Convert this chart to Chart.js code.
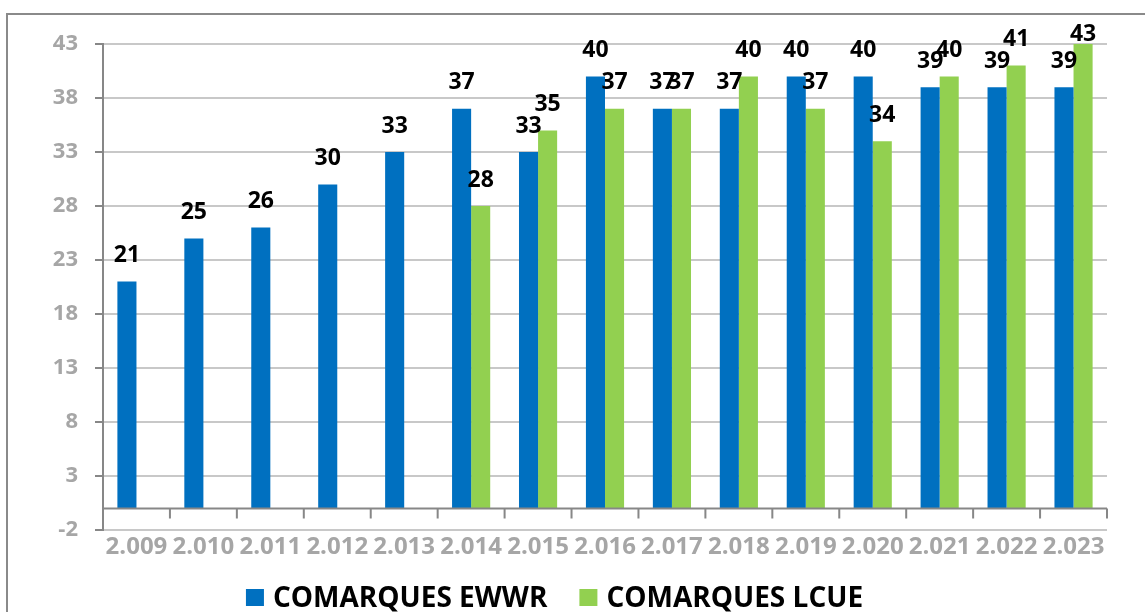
<!DOCTYPE html>
<html>
<head>
<meta charset="utf-8">
<script src="https://cdn.jsdelivr.net/npm/chart.js@4"></script>
<style>
  html, body { margin: 0; padding: 0; background: #fff; overflow: hidden; width: 1145px; height: 612px; }
  .frame { position: absolute; left: 6px; top: 13px; width: 1160px; height: 640px; border: 2px solid #8a8a8a; box-sizing: border-box; }
  .chart-container { position: absolute; left: 0; top: 0; width: 1145px; height: 612px; }
</style>
</head>
<body>
<div class="frame"></div>
<div class="chart-container"><canvas id="chart"></canvas></div>
<script>
// years as written on the axis
const years = ['2.009', '2.010', '2.011', '2.012', '2.013', '2.014', '2.015', '2.016',
               '2.017', '2.018', '2.019', '2.020', '2.021', '2.022', '2.023'];
const ewwrValues = [21, 25, 26, 30, 33, 37, 33, 40, 37, 37, 40, 40, 39, 39, 39];
const lcueValues = [null, null, null, null, null, 28, 35, 37, 37, 40, 37, 34, 40, 41, 43];
const seriesNames = ['COMARQUES EWWR', 'COMARQUES LCUE'];
const yMin = -2, yMax = 43, yStep = 5;

const axisGray = '#878787';
const labelGray = '#a6a6a6';
const fontFamily = '"Open Sans", "Liberation Sans", sans-serif';

// value labels above each bar (kept inside the frame like Excel does)
const barLabels = {
    id: 'barLabels',
    afterDatasetsDraw(chart) {
        const ctx = chart.ctx;
        const top = chart.chartArea.top;
        ctx.save();
        ctx.font = 'bold 23px ' + fontFamily;
        ctx.fillStyle = '#000';
        ctx.textAlign = 'center';
        ctx.textBaseline = 'middle';
        chart.data.datasets.forEach((ds, di) => {
            chart.getDatasetMeta(di).data.forEach((bar, i) => {
                const v = ds.data[i];
                if (v === null || v === undefined) return;
                ctx.fillText(String(v), bar.x, Math.max(bar.y - 26, top - 10));
            });
        });
        ctx.restore();
    }
};

// horizontal axis crossing at zero, with tick marks between categories
const zeroAxis = {
    id: 'zeroAxis',
    afterDatasetsDraw(chart) {
        const { ctx, chartArea } = chart;
        const x = chart.scales.x, y = chart.scales.y;
        const y0 = y.getPixelForValue(0);
        ctx.save();
        ctx.strokeStyle = axisGray;
        ctx.lineWidth = 2;
        ctx.beginPath();
        ctx.moveTo(chartArea.left, y0);
        ctx.lineTo(chartArea.right, y0);
        const n = chart.data.labels.length;
        for (let i = 1; i <= n; i++) {
            const bx = i < n ? (x.getPixelForValue(i - 1) + x.getPixelForValue(i)) / 2 : chartArea.right;
            ctx.moveTo(bx, y0);
            ctx.lineTo(bx, y0 + 10);
        }
        ctx.stroke();
        ctx.restore();
    }
};

// legend under the axis labels
const bottomLegend = {
    id: 'bottomLegend',
    afterDraw(chart) {
        const ctx = chart.ctx;
        ctx.save();
        ctx.font = 'bold 28px ' + fontFamily;
        ctx.textBaseline = 'middle';
        const box = 18, gap = 9, spacing = 32;
        const items = chart.data.datasets.map(ds => ({
            text: ds.label, color: ds.backgroundColor, w: ctx.measureText(ds.label).width
        }));
        const total = items.reduce((s, it) => s + box + gap + it.w, 0) + spacing * (items.length - 1);
        let x = chart.width / 2 - 18 - total / 2;
        const cy = chart.chartArea.bottom + 68;
        items.forEach(it => {
            ctx.fillStyle = it.color;
            ctx.fillRect(x, cy - 9, box, 17);
            ctx.fillStyle = '#000';
            ctx.fillText(it.text, x + box + gap, cy + 1);
            x += box + gap + it.w + spacing;
        });
        ctx.restore();
    }
};

const ctx = document.getElementById('chart').getContext('2d');
new Chart(ctx, {
    type: 'bar',
    data: {
        labels: years,
        datasets: [
            { label: seriesNames[0], data: ewwrValues, backgroundColor: '#0070c0' },
            { label: seriesNames[1], data: lcueValues, backgroundColor: '#92d050' }
        ]
    },
    options: {
        responsive: true,
        maintainAspectRatio: false,
        animation: false,
        categoryPercentage: 0.57,
        barPercentage: 1.0,
        layout: { padding: { left: 0, right: 38, top: 44, bottom: 52 } },
        plugins: {
            legend: { display: false },
            tooltip: { enabled: false }
        },
        scales: {
            x: {
                grid: { display: false },
                border: { display: false },
                ticks: {
                    color: labelGray,
                    font: { family: fontFamily, size: 24, weight: 'bold' },
                    padding: -5,
                    autoSkip: false,
                    maxRotation: 0
                },
                afterFit(scale) { scale.height = 30; }
            },
            y: {
                min: yMin,
                max: yMax,
                ticks: {
                    stepSize: yStep,
                    color: labelGray,
                    font: { family: fontFamily, size: 22, weight: 'bold' },
                    padding: 17
                },
                grid: {
                    color: '#c8c8c8',
                    lineWidth: 2,
                    tickColor: axisGray,
                    tickLength: 8,
                    tickWidth: 2
                },
                border: { color: axisGray, width: 2 },
                afterFit(scale) { scale.width = 103; }
            }
        }
    },
    plugins: [barLabels, zeroAxis, bottomLegend]
});
</script>
</body>
</html>
